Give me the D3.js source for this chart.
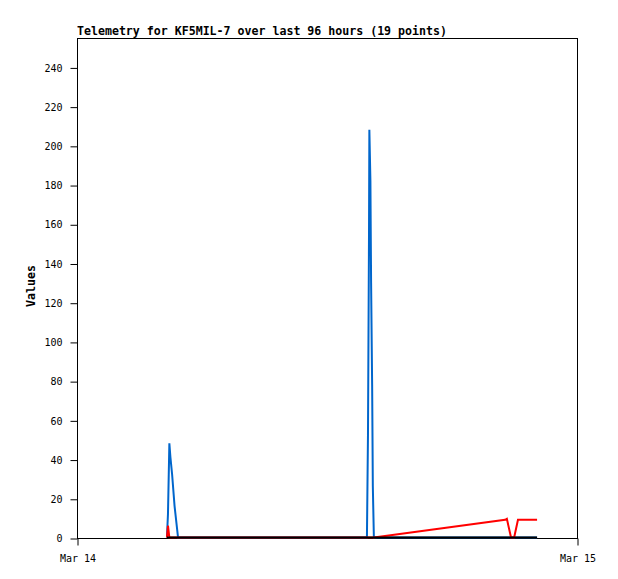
<!DOCTYPE html>
<html>
<head>
<meta charset="utf-8">
<script src="https://cdn.jsdelivr.net/npm/d3@7/dist/d3.min.js"></script>
<style>
  html, body { margin: 0; padding: 0; background: #fff; }
  svg { display: block; }
</style>
</head>
<body>
<svg id="chart" width="618" height="579"></svg>
<script>
const title = "Telemetry for KF5MIL-7 over last 96 hours (19 points)";
const yLabel = "Values";
const xDomain = ["2024-03-14T00:00", "2024-03-15T00:00"];
const xTickLabels = ["Mar 14", "Mar 15"];
const yTicks = [0, 20, 40, 60, 80, 100, 120, 140, 160, 180, 200, 220, 240];
const yMax = 255;

const times = [
  "2024-03-14T04:19", "2024-03-14T04:22", "2024-03-14T04:26", "2024-03-14T04:29",
  "2024-03-14T04:34", "2024-03-14T04:41", "2024-03-14T04:51",
  "2024-03-14T13:55", "2024-03-14T13:58", "2024-03-14T14:01", "2024-03-14T14:02",
  "2024-03-14T14:05", "2024-03-14T14:07", "2024-03-14T14:10", "2024-03-14T14:12",
  "2024-03-14T14:15",
  "2024-03-14T20:33", "2024-03-14T20:38", "2024-03-14T20:50", "2024-03-14T20:59",
  "2024-03-14T21:10", "2024-03-14T22:05"
];
const blueValues  = [0, 12, 48, 41, 32, 16, 0, 0, 52, 155, 208, 182, 130, 78, 26, 0, 0, 0, 0, 0, 0, 0];
const redValues   = [0, 6, 0, 0, 0, 0, 0, 0, 0, 0, 0, 0, 0, 0, 0, 0, 9, 9.5, 0, 0, 9, 9];
const blackValues = [0, 0, 0, 0, 0, 0, 0, 0, 0, 0, 0, 0, 0, 0, 0, 0, 0, 0, 0, 0, 0, 0];

const parse = d3.timeParse("%Y-%m-%dT%H:%M");
const svg = d3.select("#chart");
const m = { left: 77, top: 38, right: 577, bottom: 538 };

const x = d3.scaleTime().domain(xDomain.map(parse)).range([m.left, m.right]);
const y = d3.scaleLinear().domain([0, yMax]).range([m.bottom, m.top]);

const mono = "'DejaVu Sans Mono', 'Liberation Mono', monospace";

// plot frame
svg.append("rect")
  .attr("x", m.left + 0.5).attr("y", m.top + 0.5)
  .attr("width", m.right - m.left).attr("height", m.bottom - m.top)
  .attr("fill", "#fff").attr("stroke", "#000").attr("stroke-width", 1);

// title
svg.append("text")
  .attr("x", m.left).attr("y", 35)
  .attr("font-family", mono).attr("font-weight", "bold").attr("font-size", "11.6px")
  .attr("fill", "#000")
  .text(title);

// y axis
const yAxis = d3.axisLeft(y).tickValues(yTicks).tickSize(7).tickPadding(8);
const gy = svg.append("g").attr("transform", `translate(${m.left + 0.5},0.5)`).call(yAxis);
gy.select(".domain").remove();
gy.selectAll("text").attr("font-family", mono).attr("font-size", "10px").attr("fill", "#000");

// x axis
const xAxis = d3.axisBottom(x).tickValues(xDomain.map(parse))
  .tickFormat((d, i) => xTickLabels[i]).tickSize(7).tickPadding(9);
const gx = svg.append("g").attr("transform", `translate(0.5,${m.bottom + 0.5})`).call(xAxis);
gx.select(".domain").remove();
gx.selectAll("text").attr("font-family", mono).attr("font-size", "10px").attr("fill", "#000");

// y label
svg.append("text")
  .attr("transform", `translate(35,${(m.top + m.bottom) / 2 - 2}) rotate(-90)`)
  .attr("text-anchor", "middle")
  .attr("font-family", mono).attr("font-weight", "bold").attr("font-size", "11.6px")
  .attr("fill", "#000")
  .text(yLabel);

const series = [
  { values: blueValues, color: "#0066cc" },
  { values: redValues, color: "#ff0000" },
  { values: blackValues, color: "#000000" }
];
const line = d3.line().x(d => x(d.t)).y(d => y(d.v));
series.forEach(s => {
  const data = times.map((t, i) => ({ t: parse(t), v: s.values[i] }));
  svg.append("path")
    .datum(data)
    .attr("d", line)
    .attr("transform", "translate(0,-0.5)")
    .attr("fill", "none")
    .attr("stroke", s.color)
    .attr("stroke-width", 2)
    .attr("stroke-linejoin", "miter");
});
</script>
</body>
</html>
